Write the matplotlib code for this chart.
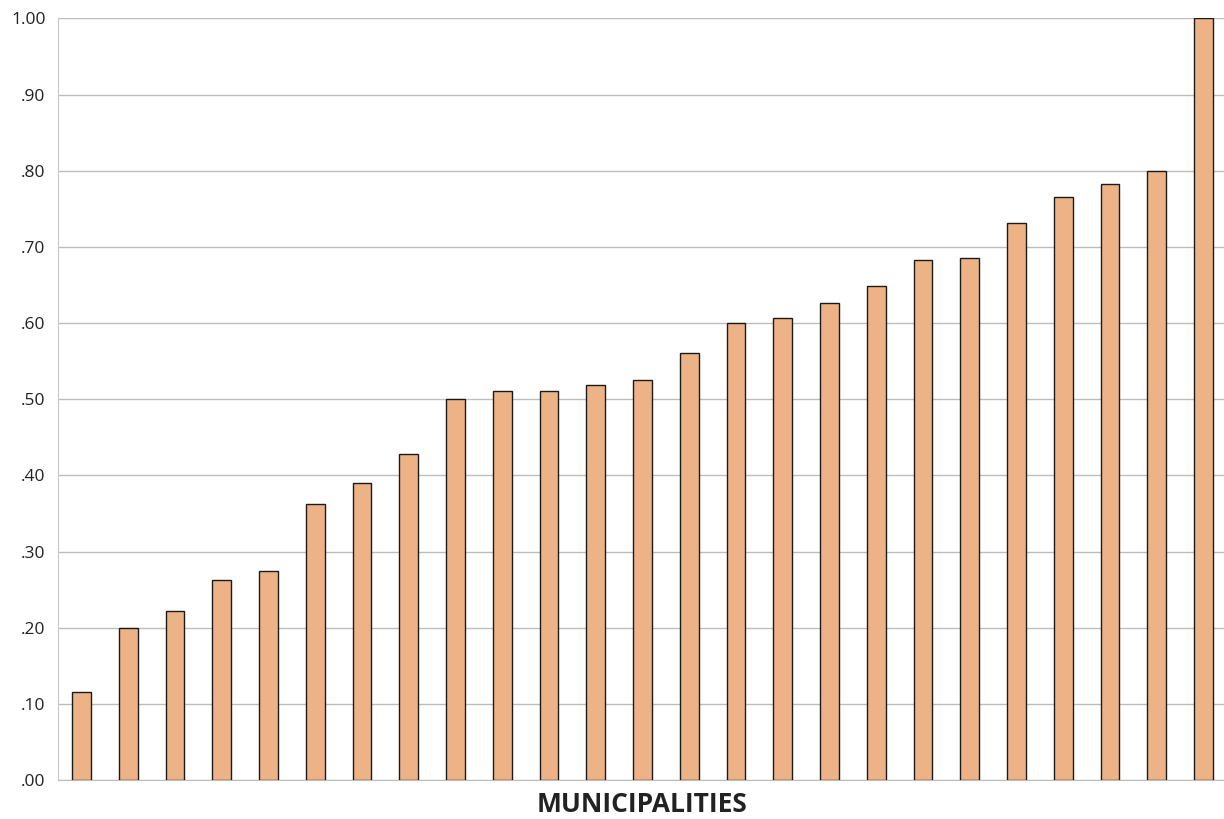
import matplotlib.pyplot as plt
from matplotlib.ticker import FuncFormatter

# Values, one bar per municipality (sorted ascending)
municipalities = list(range(1, 26))
scores = [0.115, 0.200, 0.222, 0.262, 0.275, 0.362, 0.390, 0.428, 0.500,
          0.511, 0.511, 0.518, 0.525, 0.560, 0.600, 0.607, 0.626, 0.649,
          0.683, 0.686, 0.731, 0.765, 0.782, 0.800, 1.000]
y_ticks = [0.0, 0.1, 0.2, 0.3, 0.4, 0.5, 0.6, 0.7, 0.8, 0.9, 1.0]

plt.rcParams['font.family'] = ['Open Sans', 'DejaVu Sans']

fig = plt.figure(figsize=(12.24, 8.19), dpi=100)
ax = fig.add_axes([0.0474, 0.0476, 0.955, 0.930])

positions = range(len(municipalities))
ax.bar(positions, scores, width=0.4, color='#EDB387',
       edgecolor='#1a1a1a', linewidth=1.0, zorder=3)

ax.set_xlim(-0.5, len(municipalities) - 0.5)
ax.set_ylim(0, 1.0)
ax.set_yticks(y_ticks)


# Excel style labels: ".10" instead of "0.10"
def fmt(v, pos):
    if v >= 0.999:
        return "1.00"
    return f"{v:.2f}"[1:]


ax.yaxis.set_major_formatter(FuncFormatter(fmt))
ax.tick_params(axis='y', length=0, labelsize=12.5, colors='#222222', pad=9)
ax.set_xticks([])

ax.grid(axis='y', color='#bdbdbd', linewidth=1.0, zorder=0)
for side in ['top', 'right']:
    ax.spines[side].set_visible(False)
ax.spines['left'].set_color('#c8c8c8')
ax.spines['bottom'].set_color('#bdbdbd')

ax.set_xlabel("MUNICIPALITIES", fontsize=19, fontweight='bold',
              color='#222222', labelpad=8)

fig.savefig("out.png", dpi=100)
